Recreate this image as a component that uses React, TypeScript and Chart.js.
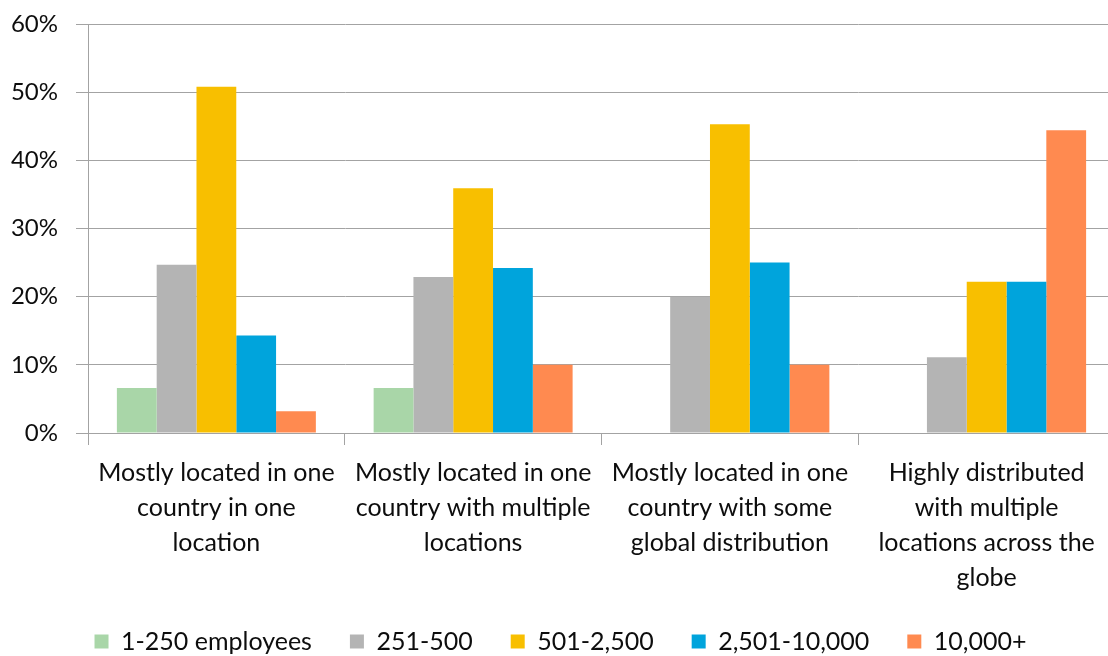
import React, { useEffect, useRef } from "react";
import { Chart, registerables } from "chart.js";

Chart.register(...registerables);

// Category labels, already broken into lines
const categories: string[][] = [
  ["Mostly located in one", "country in one", "location"],
  ["Mostly located in one", "country with multiple", "locations"],
  ["Mostly located in one", "country with some", "global distribution"],
  ["Highly distributed", "with multiple", "locations across the", "globe"],
];

// Share of respondents (%) per company size
const employees1to250 = [6.6, 6.6, 0, 0];
const employees251to500 = [24.7, 22.9, 20.0, 11.1];
const employees501to2500 = [50.8, 35.9, 45.3, 22.2];
const employees2501to10000 = [14.3, 24.2, 25.0, 22.2];
const employees10000plus = [3.2, 10.0, 10.0, 44.4];

const seriesNames = ["1-250 employees", "251-500", "501-2,500", "2,501-10,000", "10,000+"];
const seriesColors = ["#a9d6a8", "#b4b4b4", "#f8bf00", "#00a4dc", "#ff8a50"];

const yMax = 60;
const yStep = 10;

const FONT = "Lato, 'Open Sans', sans-serif";
const GRID = "#a3a3a3";
const TEXT = "#0d0d0d";

const LEFT_PAD = 6;
const AXIS_X = 88;

export default function App() {
  const canvasRef = useRef<HTMLCanvasElement | null>(null);

  useEffect(() => {
    if (!canvasRef.current) return;
    const values = [
      employees1to250,
      employees251to500,
      employees501to2500,
      employees2501to10000,
      employees10000plus,
    ];
    const chart = new Chart(canvasRef.current, {
      type: "bar",
      data: {
        labels: categories,
        datasets: values.map((data, i) => ({
          label: seriesNames[i],
          data,
          backgroundColor: seriesColors[i],
          borderWidth: 0,
          categoryPercentage: 0.775,
          barPercentage: 1.0,
        })),
      },
      options: {
        responsive: false,
        animation: false,
        devicePixelRatio: 1,
        layout: { padding: { left: LEFT_PAD, right: 1, top: 24, bottom: 0 } },
        plugins: {
          tooltip: { enabled: false },
          legend: {
            position: "bottom",
            align: "center",
            labels: {
              boxWidth: 14,
              boxHeight: 14,
              padding: 38,
              color: TEXT,
              font: { family: FONT, size: 25 },
            },
          },
        },
        scales: {
          x: {
            afterFit: (scale: any) => {
              scale.height = 158;
            },
            grid: {
              offset: true,
              drawOnChartArea: false,
              drawTicks: true,
              tickLength: 12,
              color: GRID,
              lineWidth: 1,
            },
            border: { color: GRID, width: 1 },
            ticks: {
              autoSkip: false,
              maxRotation: 0,
              minRotation: 0,
              padding: 10,
              color: TEXT,
              font: { family: FONT, size: 25, lineHeight: 1.4 },
            },
          },
          y: {
            min: 0,
            max: yMax,
            afterFit: (scale: any) => {
              scale.width = AXIS_X - LEFT_PAD;
              scale.paddingTop = 0;
              scale.paddingBottom = 0;
            },
            grid: {
              color: GRID,
              lineWidth: 1,
              drawTicks: true,
              tickLength: 12,
            },
            border: { color: GRID, width: 1 },
            ticks: {
              stepSize: yStep,
              padding: 18,
              color: TEXT,
              font: { family: FONT, size: 24 },
              callback: (v: any) => `${v}%`,
            },
          },
        },
      },
    });
    return () => chart.destroy();
  }, []);

  return (
    <div
      style={{
        position: "absolute",
        left: 0,
        top: 0,
        width: 1108,
        height: 656,
        overflow: "hidden",
        background: "#ffffff",
      }}
    >
      <canvas ref={canvasRef} width={1116} height={664} style={{ display: "block" }} />
    </div>
  );
}
